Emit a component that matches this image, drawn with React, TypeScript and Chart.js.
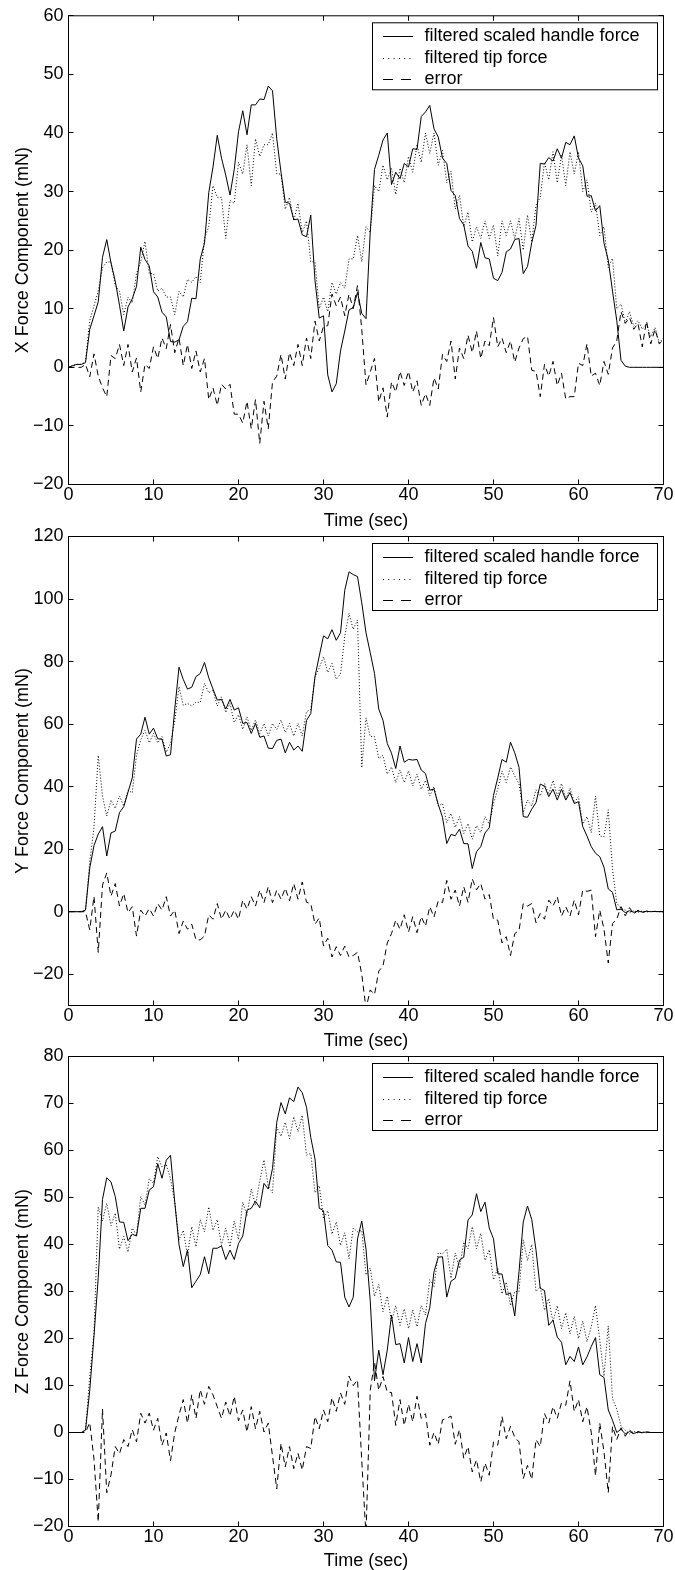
import React, { useEffect, useRef } from 'react';
import { Chart, registerables } from 'chart.js';

Chart.register(...registerables);

const FONT = '"Liberation Sans", Arial, Helvetica, sans-serif';

// sample times (s), every 0.5 s from 0 to 70
const TIME = Array.from({ length: 141 }, (_, i) => i * 0.5);
const X_TICKS = [0, 10, 20, 30, 40, 50, 60, 70];
const Y1_TICKS = [-20, -10, 0, 10, 20, 30, 40, 50, 60];
const Y2_TICKS = [-20, 0, 20, 40, 60, 80, 100, 120];
const Y3_TICKS = [-20, -10, 0, 10, 20, 30, 40, 50, 60, 70, 80];
const SERIES_LABELS = ['filtered scaled handle force', 'filtered tip force', 'error'];

// ---- X force component (mN)
const X_HANDLE = [
  0, 0.3, 0.5, 0.5, 0.8, 6.5, 8.8, 11.2, 18.8, 21.8,
  17.8, 14.7, 10.6, 6.2, 10.3, 11.7, 13.8, 20.5, 18.4, 17.3,
  12.9, 12, 9.4, 8.6, 4.4, 4.3, 4.7, 7, 7.8, 11.8,
  11.7, 18.5, 21.2, 29.8, 34.2, 39.6, 35.7, 32.8, 29.4, 33.8,
  40.2, 43.8, 39.7, 44.8, 44.8, 45.8, 45.7, 48, 47.2, 39,
  33.3, 28.2, 28, 25.2, 25.3, 22.6, 22.3, 26, 14.8, 8.4,
  8.8, -1.3, -4.2, -2.8, 2.8, 6.2, 9.8, 10.2, 12.8, 9.2,
  8.3, 23.2, 33.8, 36.2, 38.8, 40, 31.2, 33.3, 32.2, 34.8,
  34.2, 37.3, 37.2, 42.8, 43.6, 44.7, 40.7, 39.3, 35.7, 34.8,
  30.2, 29.3, 25.4, 24.3, 20.7, 19.8, 16.9, 21.3, 18.7, 18.5,
  15.2, 14.8, 16.2, 19.7, 20.2, 21.8, 22, 16, 17.2, 21.3,
  24.2, 34.8, 34.7, 35.8, 35.2, 37.3, 35.7, 38.4, 38, 39.5,
  35.7, 34.4, 29.2, 29.3, 26.7, 27.6, 21.2, 18.3, 13, 8,
  1.2, 0.2, 0, 0, 0, 0, 0, 0, 0, 0,
  0,
];
const X_TIP = [
  0, 0.3, 0.5, 0.5, 1, 8, 10.5, 13, 17, 18,
  18, 14, 13, 9, 12, 11, 16, 18, 21.5, 16,
  16, 13, 13.5, 12, 12, 9, 13, 12, 15, 14.5,
  15.5, 14.5, 22, 24, 31, 29, 29, 22, 28.5, 28,
  35, 33, 38, 31, 39, 36, 38, 38, 40, 33,
  33, 27, 29, 25, 28, 23, 25, 18, 18, 10,
  12, 9.5, 14.5, 12.5, 14.5, 13.5, 18.5, 18.5, 22.5, 18,
  24, 23, 31, 30, 34.5, 32, 34, 29.5, 34, 31.5,
  36, 33.3, 38, 35, 40, 36.5, 40, 34.5, 37, 31.5,
  33.5, 27, 29.4, 24, 26.5, 21.4, 24, 22, 25, 22,
  24.3, 19, 25, 22.5, 25, 22, 25.4, 20, 26, 21.4,
  27.7, 29, 35, 32, 36.8, 31.5, 36.2, 31, 36.8, 33,
  36.8, 30, 32, 26.5, 28, 22.5, 24, 17, 18.6, 10,
  10.8, 7.6, 9.5, 7, 8, 6.5, 7.4, 5.2, 6.8, 4.2,
  5,
];
const X_ERR = [
  0, 0, 0, 0, 0.5, -1.6, 2.3, -1.5, -3.5, -5,
  2, 1.5, 3.9, 0.3, 3.9, -0.8, 1.6, -4.2, 0.5, -0.2,
  3.5, 1.5, 5, 3.2, 7.3, 2.5, 5, 0.3, 3.9, -0.2,
  2.8, -0.8, 1.5, -5.5, -3.5, -6.5, -2.9, -3.7, -2.9, -8,
  -8, -9.5, -5.8, -10.5, -5.5, -13, -5.8, -10.5, -2.5, -1.5,
  2.2, -2, 2.5, 0.3, 3.9, 0.3, 5, 1.5, 7.9, 4.5,
  7, 7.1, 12.5, 10.5, 12, 8.8, 12.5, 10, 14, 6.5,
  -3, -0.8, 1.5, -5.9, -3.5, -8.5, -2.5, -4.2, -0.7, -3.1,
  -0.7, -4.2, -2.3, -6.5, -4.5, -6.5, -1.8, -3.7, 2.2, 1,
  4.5, -2, 3.3, 1.5, 5.5, 2.5, 6.2, 1.5, 4.5, 3.7,
  8.5, 3.5, 5, 2.5, 4.5, 0.9, 3.3, 4.9, 5.3, -0.5,
  -0.7, -5, 0.5, -1.5, 1, -3.1, -1, -5.4, -5, -5,
  0.7, 0.3, 4, -1.5, -1, -3.1, 1, -1.2, 3.3, 4.5,
  9.5, 7.5, 8.5, 6.5, 7.5, 3.5, 7.9, 4, 6.5, 4,
  4.7,
];

// ---- Y force component (mN)
const Y_HANDLE = [
  0, 0, 0, 0, 0.5, 14, 21.2, 24.8, 27.2, 17.8,
  25.2, 25.8, 31.7, 33.6, 38.2, 42.8, 55.2, 56.8, 62.2, 56.8,
  58.7, 55.3, 55.2, 49.8, 50.2, 64.8, 78.2, 74.3, 71.2, 71.8,
  75.2, 76.2, 79.7, 74.8, 71.2, 67.7, 67.9, 64.8, 67.9, 64.5,
  65.2, 60.2, 60.5, 57, 60.2, 55.8, 56.2, 52.3, 52.2, 54.8,
  55.2, 50.8, 54.2, 51.7, 53, 51.3, 61.2, 63.4, 75.2, 81.8,
  88.2, 87.3, 90.2, 86.8, 89.2, 102.8, 108.7, 107.8, 107.2, 98.8,
  89.2, 82.8, 76.2, 64.8, 61.2, 53.8, 50.7, 45.8, 53, 47.8,
  48.7, 48.5, 48.7, 45.3, 44.2, 38.9, 39.2, 34.3, 30.2, 21.8,
  24.7, 24.3, 26.4, 21.8, 21.7, 13.8, 19.2, 20.8, 25.2, 26.8,
  37.2, 42.8, 48.7, 47.8, 54.2, 50.8, 46.2, 30.4, 30.2, 32.8,
  34.9, 40.8, 40.2, 36.8, 39.2, 35.7, 39.2, 35.7, 38.1, 34.6,
  35.2, 27.2, 24.2, 20.8, 18.7, 17.6, 14.2, 7.3, 6.2, 0.6,
  0.8, -0.3, 0.3, -0.2, 0.2, -0.1, 0.1, 0, 0.1, 0,
  0,
];
const Y_TIP = [
  0, 0, 0, 0, 0.5, 16, 27, 50, 37, 30.6,
  35.7, 33, 37, 33.8, 38.9, 38, 50, 55, 58, 54,
  57, 54, 56, 51, 53.8, 61, 72, 66, 66.6, 65.8,
  67, 66.9, 73, 70, 70.9, 65.8, 68.7, 63.7, 66.6, 60.5,
  63, 58.3, 62.3, 58, 61.3, 57, 60.2, 56.2, 60.2, 58.3,
  61.3, 57.3, 60.2, 56.2, 60.2, 56.2, 64, 64.7, 75, 78,
  81.5, 76.5, 79.4, 74.3, 76, 88, 95.4, 90.3, 93.3, 46,
  62, 56, 56, 49, 50, 44, 46.3, 41.3, 45.3, 41.3,
  45, 40.2, 44, 39.2, 42, 37, 40, 33.8, 34.6, 28.5,
  31.4, 27, 30.4, 25, 28.2, 23.2, 27.5, 25.3, 30.4, 28,
  34.6, 39.2, 45, 41.3, 46.3, 43.4, 41, 31.7, 35.7, 33.8,
  39, 37, 41, 37.5, 42, 37, 41, 36, 39.5, 34.9,
  36.8, 28, 30.4, 25.3, 37, 24.2, 24, 32.6, 13.6, 2.8,
  1, 0.5, -0.3, 0.3, -0.2, 0.2, -0.1, 0.1, 0, 0,
  0,
];
const Y_ERR = [
  0, 0, 0, 0, 0, -5.8, 4.9, -13, 8.5, 12.4,
  5, 9, 1.8, 5.8, -0.3, 1.6, -7.8, 0.5, -1.4, 1,
  -1.4, 2.6, 0.5, 4.8, -1.4, 0.5, -7, -3, -5.6, -4,
  -9, -9, -7.8, -1, -2.4, 2.6, -2.4, 0.5, -2.4, 0.5,
  -2.4, 3.7, 0.8, 4.8, 1.8, 6.9, 2.9, 8, 2.9, 6.9,
  4, 7.5, 3.5, 9, 4, 9.5, 3, 2.6, -4, -2,
  -11, -8.5, -14.5, -11.2, -14, -11, -14.5, -14, -13, -20,
  -31, -25, -26.5, -19, -17.4, -10, -7, -2.7, -5.6, -1,
  -6.5, -1.6, -6.7, -1.6, -4.6, 1.6, -1.7, 3.5, 2.9, 10,
  4, 6.9, 1.8, 8, 3, 10.5, 7, 9, 4, 5.5,
  -2.5, -2.7, -10, -8, -14, -7, -6, 2.6, 1.8, 2.6,
  -3.5, -0.6, -2.4, 3.7, 1.8, 4.8, -1.4, 1.6, -1.4, 3.7,
  -1, 6.9, 6.5, 6.9, -8, 0.5, -5.6, -16.4, -3.8, -2.4,
  1.6, -1.3, 1.3, -0.8, 0.5, -0.3, 0.2, 0, 0.1, 0,
  0,
];

// ---- Z force component (mN)
const Z_HANDLE = [
  0, 0, 0, 0, 0.5, 9, 20.6, 33, 49.6, 54.2,
  53.3, 50.2, 44.8, 44.7, 40.8, 42.2, 41.8, 47.7, 47.7, 51.6,
  52.3, 57.2, 54.1, 57.9, 59, 49, 40, 35.3, 38.8, 30.8,
  32.2, 33.6, 37.4, 33.8, 39.2, 39.2, 39.7, 36.8, 38.8, 36.8,
  40.2, 41.8, 47.3, 47.7, 49.2, 47.8, 53, 51.8, 56.2, 66,
  70.2, 67.8, 71.2, 70.4, 73.5, 72.3, 69.2, 62.8, 58.2, 47.7,
  47.2, 39.8, 38.8, 36.3, 36.2, 28.8, 26.7, 28.8, 41.2, 45,
  39, 28, 11, 17.5, 12.3, 17.5, 25, 18.7, 18.9, 14.8,
  20.2, 15.1, 18.9, 14.8, 23.2, 26.5, 34.2, 37.3, 37.4, 28.8,
  32.2, 32.8, 36.7, 37.3, 45.2, 46.3, 50.8, 47, 49, 43.5,
  41.2, 33.8, 33.7, 29.3, 29.7, 24.8, 34.2, 44.8, 48.2, 45.3,
  38.8, 30.7, 30.2, 22.8, 23.9, 20.3, 19.2, 14.4, 16.2, 15.1,
  18.2, 14.4, 16.1, 18.3, 20.2, 12.3, 11.7, 4.8, 2.6, 0,
  0.7, -0.3, 0.2, -0.2, 0.1, 0, 0.1, 0, 0, 0,
  0,
];
const Z_TIP = [
  0, 0, 0, 0, 0.5, 12, 21, 48, 45, 48.8,
  44, 46.7, 39, 41.7, 38.4, 43.5, 42, 50.2, 48.4, 54,
  53, 58.7, 56.5, 57, 54, 49, 41, 43, 37.7, 43.8,
  39.5, 45.3, 42.7, 48, 43, 45.3, 39.8, 43.5, 39.5, 45,
  41, 49, 46.2, 51.8, 48.4, 53.5, 58, 52.4, 51, 65,
  63, 66, 62.5, 67.2, 64, 67.5, 59, 59.4, 51, 52.5,
  45.5, 47.2, 42.2, 44.8, 39.8, 42.5, 37, 43.5, 42.7, 43,
  33.5, 35, 29, 31.5, 25.7, 29, 23.7, 27, 22.8, 26.3,
  22.1, 26.1, 22.5, 27, 25, 32.5, 31, 38.2, 38, 39,
  32.8, 38.2, 34.9, 40.5, 39.1, 43.8, 39.1, 42.4, 36.6, 38.9,
  32.5, 35, 29.5, 32, 27, 30, 30, 41, 36.6, 40,
  30, 31, 26, 28.5, 23.5, 27, 22.1, 25.5, 21, 24.7,
  20, 23.7, 19.3, 22.5, 27, 19.7, 12, 22.7, 7.2, 5,
  1.4, 0.5, -0.3, 0.3, -0.1, 0.1, 0, 0, 0, 0,
  0,
];
const Z_ERR = [
  0, 0, 0, 0, 0, 2.1, -5.7, -19, 5, -12.8,
  -9, -3, -4.5, -1.5, -3, 0.6, -2, 4.1, 2, 4.1,
  0.5, 3, -2.7, -0.1, -6, 0, 3.7, 7, 2, 8,
  3, 9.1, 6, 9.8, 8, 5.5, 3, 6.5, 3.5, 7.7,
  2.5, 4.8, 0.1, 5.5, 0.8, 4.5, 0.1, 2, -5, -12,
  -2.3, -7.3, -3, -7.7, -4.4, -8, -3, -3.4, 3.4, 0.8,
  4.8, 2.3, 7.4, 4.5, 8.4, 6, 12, 10, 11.2, -6,
  -22, 9, 15, 9, 11.9, 8.6, 8.5, 1.5, 7, 1.5,
  6, 2.3, 7.7, 3, 4, -2.7, 0, -2.5, 2.7, 3,
  3.5, -2.5, 0.6, -5.5, -3, -8.4, -5.8, -10.5, -6.5, -9.1,
  -2, -2.7, 3.4, -1.3, 1.3, -1, -2, -9.8, -7, -10,
  -1.5, -3, 4, 2, 5.5, 3, 6.3, 5.8, 11, 4.5,
  7, 2.3, 5.5, 0, -9.2, 2, -4.1, -12.8, 1.3, -1.5,
  1, -0.8, 0.6, -0.4, 0.2, -0.1, 0.1, 0, 0, 0,
  0,
];

const fmt = (v: number) => (v < 0 ? '\u2212' + Math.abs(v) : String(v));
const toXY = (vals: number[]) => vals.map((v, i) => ({ x: TIME[i], y: v }));

const LEGEND_DASH = [[], [1, 4.3], [10, 8]];

const matlabPlugin = {
  id: 'matlabAxes',
  afterDatasetsDraw(chart: any) {
    const { ctx, chartArea: a, scales } = chart;
    ctx.save();
    ctx.strokeStyle = '#000';
    ctx.lineWidth = 1;
    ctx.setLineDash([]);
    ctx.strokeRect(a.left, a.top, a.right - a.left, a.bottom - a.top);
    ctx.beginPath();
    scales.x.ticks.forEach((t: any) => {
      const x = Math.round(scales.x.getPixelForValue(t.value) - 0.5) + 0.5;
      ctx.moveTo(x, a.bottom);
      ctx.lineTo(x, a.bottom - 5);
      ctx.moveTo(x, a.top);
      ctx.lineTo(x, a.top + 5);
    });
    scales.y.ticks.forEach((t: any) => {
      const y = Math.round(scales.y.getPixelForValue(t.value) - 0.5) + 0.5;
      ctx.moveTo(a.left, y);
      ctx.lineTo(a.left + 5, y);
      ctx.moveTo(a.right, y);
      ctx.lineTo(a.right - 5, y);
    });
    ctx.stroke();
    ctx.restore();
  },
  afterDraw(chart: any) {
    const { ctx, chartArea: a } = chart;
    const left = a.right - 291;
    const top = a.top + 7;
    const w = 285;
    const h = 67;
    ctx.save();
    ctx.fillStyle = '#fff';
    ctx.fillRect(left, top, w, h);
    ctx.strokeStyle = '#000';
    ctx.lineWidth = 1;
    ctx.setLineDash([]);
    ctx.strokeRect(left, top, w, h);
    chart.data.datasets.forEach((ds: any, i: number) => {
      const y = Math.round(top + 13.5 + i * 21.5) + 0.5;
      ctx.setLineDash(LEGEND_DASH[i]);
      ctx.beginPath();
      ctx.moveTo(left + 10.5, y);
      ctx.lineTo(left + 40.5, y);
      ctx.stroke();
      ctx.setLineDash([]);
      ctx.fillStyle = '#000';
      ctx.font = `18px ${FONT}`;
      ctx.textBaseline = 'middle';
      ctx.textAlign = 'left';
      ctx.fillText(ds.label, left + 52, y);
    });
    ctx.restore();
  },
};

type PlotProps = {
  top: number;
  padTop: number;
  xAxisHeight: number;
  yMin: number;
  yMax: number;
  yTicks: number[];
  yLabel: string;
  handle: number[];
  tip: number[];
  err: number[];
};

function ForcePlot(p: PlotProps) {
  const ref = useRef<HTMLCanvasElement | null>(null);
  useEffect(() => {
    if (!ref.current) return;
    const chart = new Chart(ref.current, {
      type: 'line',
      data: {
        datasets: [
          { label: SERIES_LABELS[0], data: toXY(p.handle), borderColor: '#000', borderWidth: 1, pointRadius: 0, tension: 0 },
          { label: SERIES_LABELS[1], data: toXY(p.tip), borderColor: '#000', borderWidth: 1, pointRadius: 0, tension: 0, borderDash: [1, 2] },
          { label: SERIES_LABELS[2], data: toXY(p.err), borderColor: '#000', borderWidth: 1, pointRadius: 0, tension: 0, borderDash: [6, 4] },
        ],
      },
      options: {
        animation: false,
        responsive: false,
        devicePixelRatio: 1,
        events: [],
        layout: { padding: { top: p.padTop, right: 11.5, left: 0, bottom: 0 } },
        plugins: { legend: { display: false }, tooltip: { enabled: false } },
        scales: {
          x: {
            type: 'linear',
            min: 0,
            max: 70,
            grid: { display: false, drawTicks: false },
            border: { display: false },
            afterBuildTicks: (s: any) => { s.ticks = X_TICKS.map((v) => ({ value: v })); },
            afterFit: (s: any) => { s.height = p.xAxisHeight; },
            ticks: { font: { family: FONT, size: 18 }, color: '#000', padding: 0, autoSkip: false, maxRotation: 0, callback: (v: any) => fmt(Number(v)) },
            title: { display: true, text: 'Time (sec)', color: '#000', font: { family: FONT, size: 18, lineHeight: 1 }, padding: { top: 0, bottom: 0 } },
          },
          y: {
            type: 'linear',
            min: p.yMin,
            max: p.yMax,
            grid: { display: false, drawTicks: false },
            border: { display: false },
            afterBuildTicks: (s: any) => { s.ticks = p.yTicks.map((v) => ({ value: v })); },
            afterFit: (s: any) => { s.width = 68.5; },
            ticks: { font: { family: FONT, size: 18 }, color: '#000', padding: 5, autoSkip: false, callback: (v: any) => fmt(Number(v)) },
            title: { display: true, text: p.yLabel, color: '#000', font: { family: FONT, size: 18, lineHeight: 1 }, padding: { top: 14, bottom: 0 } },
          },
        },
      } as any,
      plugins: [matlabPlugin],
    });
    return () => chart.destroy();
  }, []);
  return (
    <canvas
      ref={ref}
      width={675}
      height={530}
      style={{ position: 'absolute', left: 0, top: p.top, width: 675, height: 530 }}
    />
  );
}

export default function App() {
  return (
    <div style={{ position: 'absolute', left: 0, top: 0, width: 675, height: 1570, background: '#fff', overflow: 'hidden' }}>
      <ForcePlot top={0} padTop={14.5} xAxisHeight={45.5} yMin={-20} yMax={60} yTicks={Y1_TICKS}
        yLabel="X Force Component (mN)" handle={X_HANDLE} tip={X_TIP} err={X_ERR} />
      <ForcePlot top={520} padTop={16.5} xAxisHeight={44.5} yMin={-30} yMax={120} yTicks={Y2_TICKS}
        yLabel="Y Force Component (mN)" handle={Y_HANDLE} tip={Y_TIP} err={Y_ERR} />
      <ForcePlot top={1040} padTop={16.5} xAxisHeight={43.5} yMin={-20} yMax={80} yTicks={Y3_TICKS}
        yLabel="Z Force Component (mN)" handle={Z_HANDLE} tip={Z_TIP} err={Z_ERR} />
    </div>
  );
}
